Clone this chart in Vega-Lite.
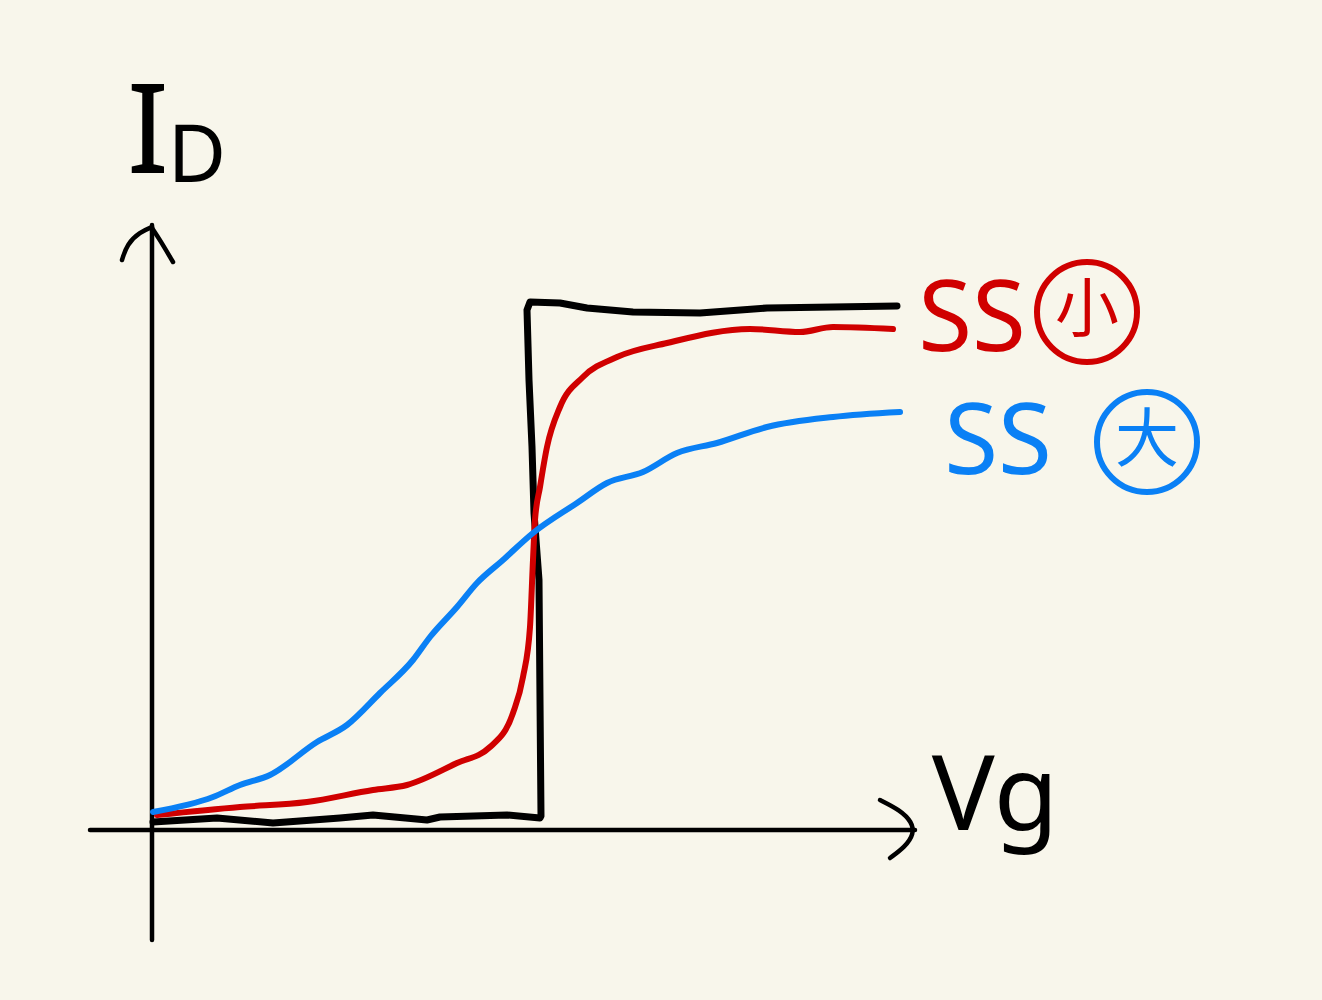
{
  "$schema": "https://vega.github.io/schema/vega-lite/v6.json",
  "description": "Hand sketch: Id-Vg transfer curves, ideal step vs small SS vs large SS.",
  "width": 1322,
  "height": 1000,
  "padding": 0,
  "autosize": {"type": "fit", "contains": "padding"},
  "background": "#f8f6eb",
  "datasets": {
    "axes": [
      {"part": "vg_axis", "order": 0, "x": -0.62, "y": 0},
      {"part": "vg_axis", "order": 1, "x": 7.63, "y": 0},
      {"part": "id_axis", "order": 0, "x": 0, "y": -1.1},
      {"part": "id_axis", "order": 1, "x": 0, "y": 6.05},
      {"part": "id_arrow_l", "order": 0, "x": -0.3, "y": 5.7},
      {"part": "id_arrow_l", "order": 1, "x": -0.25, "y": 5.86},
      {"part": "id_arrow_l", "order": 2, "x": -0.12, "y": 5.98},
      {"part": "id_arrow_l", "order": 3, "x": 0, "y": 6.03},
      {"part": "id_arrow_r", "order": 0, "x": 0, "y": 6.02},
      {"part": "id_arrow_r", "order": 1, "x": 0.08, "y": 5.9},
      {"part": "id_arrow_r", "order": 2, "x": 0.21, "y": 5.68},
      {"part": "vg_arrow", "order": 0, "x": 7.28, "y": 0.3},
      {"part": "vg_arrow", "order": 1, "x": 7.48, "y": 0.2},
      {"part": "vg_arrow", "order": 2, "x": 7.6, "y": 0.08},
      {"part": "vg_arrow", "order": 3, "x": 7.62, "y": -0.04},
      {"part": "vg_arrow", "order": 4, "x": 7.53, "y": -0.17},
      {"part": "vg_arrow", "order": 5, "x": 7.38, "y": -0.28}
    ],
    "ideal": [
      {"order": 0, "x": 0.01, "y": 0.08},
      {"order": 1, "x": 0.65, "y": 0.12},
      {"order": 2, "x": 1.21, "y": 0.07},
      {"order": 3, "x": 1.88, "y": 0.12},
      {"order": 4, "x": 2.21, "y": 0.15},
      {"order": 5, "x": 2.75, "y": 0.1},
      {"order": 6, "x": 2.88, "y": 0.13},
      {"order": 7, "x": 3.55, "y": 0.15},
      {"order": 8, "x": 3.88, "y": 0.12},
      {"order": 9, "x": 3.89, "y": 0.14},
      {"order": 10, "x": 3.88, "y": 1.3},
      {"order": 11, "x": 3.87, "y": 2.5},
      {"order": 12, "x": 3.82, "y": 3.17},
      {"order": 13, "x": 3.8, "y": 3.83},
      {"order": 14, "x": 3.77, "y": 4.5},
      {"order": 15, "x": 3.75, "y": 5.2},
      {"order": 16, "x": 3.78, "y": 5.28},
      {"order": 17, "x": 4.08, "y": 5.27},
      {"order": 18, "x": 4.35, "y": 5.22},
      {"order": 19, "x": 4.81, "y": 5.18},
      {"order": 20, "x": 5.48, "y": 5.17},
      {"order": 21, "x": 6.15, "y": 5.22},
      {"order": 22, "x": 6.81, "y": 5.23},
      {"order": 23, "x": 7.45, "y": 5.24}
    ],
    "curves": [
      {"series": "small", "x": 0.05, "y": 0.15},
      {"series": "small", "x": 0.88, "y": 0.23},
      {"series": "small", "x": 1.55, "y": 0.28},
      {"series": "small", "x": 2.21, "y": 0.4},
      {"series": "small", "x": 2.55, "y": 0.45},
      {"series": "small", "x": 3.05, "y": 0.67},
      {"series": "small", "x": 3.38, "y": 0.83},
      {"series": "small", "x": 3.61, "y": 1.17},
      {"series": "small", "x": 3.71, "y": 1.53},
      {"series": "small", "x": 3.78, "y": 2.03},
      {"series": "small", "x": 3.81, "y": 2.7},
      {"series": "small", "x": 3.83, "y": 3.1},
      {"series": "small", "x": 3.88, "y": 3.43},
      {"series": "small", "x": 3.95, "y": 3.83},
      {"series": "small", "x": 4.08, "y": 4.23},
      {"series": "small", "x": 4.31, "y": 4.53},
      {"series": "small", "x": 4.65, "y": 4.73},
      {"series": "small", "x": 5.15, "y": 4.87},
      {"series": "small", "x": 5.98, "y": 5.01},
      {"series": "small", "x": 6.48, "y": 4.98},
      {"series": "small", "x": 6.81, "y": 5.03},
      {"series": "small", "x": 7.41, "y": 5.01},
      {"series": "large", "x": 0.01, "y": 0.18},
      {"series": "large", "x": 0.61, "y": 0.33},
      {"series": "large", "x": 0.88, "y": 0.45},
      {"series": "large", "x": 1.18, "y": 0.55},
      {"series": "large", "x": 1.65, "y": 0.88},
      {"series": "large", "x": 1.95, "y": 1.05},
      {"series": "large", "x": 2.28, "y": 1.37},
      {"series": "large", "x": 2.61, "y": 1.7},
      {"series": "large", "x": 2.78, "y": 1.93},
      {"series": "large", "x": 3.05, "y": 2.23},
      {"series": "large", "x": 3.25, "y": 2.47},
      {"series": "large", "x": 3.51, "y": 2.7},
      {"series": "large", "x": 3.81, "y": 2.97},
      {"series": "large", "x": 4.25, "y": 3.27},
      {"series": "large", "x": 4.55, "y": 3.47},
      {"series": "large", "x": 4.91, "y": 3.58},
      {"series": "large", "x": 5.25, "y": 3.77},
      {"series": "large", "x": 5.65, "y": 3.87},
      {"series": "large", "x": 6.15, "y": 4.03},
      {"series": "large", "x": 6.81, "y": 4.13},
      {"series": "large", "x": 7.48, "y": 4.18}
    ],
    "ss_labels": [
      {"series": "small", "label": "SS", "x": 8.2, "y": 5.08},
      {"series": "large", "label": "SS", "x": 8.46, "y": 3.85}
    ],
    "ss_marks": [
      {"series": "small", "label": "小", "x": 9.35, "y": 5.18},
      {"series": "large", "label": "大", "x": 9.95, "y": 3.88}
    ]
  },
  "encoding": {
    "x": {"field": "x", "type": "quantitative", "axis": null, "scale": {"domain": [-1.52, 11.7], "nice": false, "zero": false}},
    "y": {"field": "y", "type": "quantitative", "axis": null, "scale": {"domain": [-1.7, 8.3], "nice": false, "zero": false}}
  },
  "layer": [
    {
      "data": {"name": "axes"},
      "mark": {"type": "line", "color": "#000000", "strokeWidth": 4.5, "strokeCap": "round", "strokeJoin": "round", "interpolate": "basis"},
      "encoding": {
        "detail": {"field": "part"},
        "order": {"field": "order"}
      }
    },
    {
      "data": {"name": "ideal"},
      "mark": {"type": "line", "color": "#000000", "strokeWidth": 7, "strokeCap": "round", "strokeJoin": "round"},
      "encoding": {"order": {"field": "order"}}
    },
    {
      "data": {"name": "curves"},
      "mark": {"type": "line", "strokeWidth": 6, "strokeCap": "round", "interpolate": "monotone"},
      "encoding": {
        "color": {"field": "series", "type": "nominal", "legend": null,
          "scale": {"domain": ["small", "large"], "range": ["#d00000", "#0a80f5"]}}
      }
    },
    {
      "data": {"name": "ss_labels"},
      "mark": {"type": "text", "font": "Noto Sans", "fontSize": 98, "align": "center", "baseline": "middle"},
      "encoding": {
        "text": {"field": "label"},
        "color": {"field": "series", "type": "nominal", "legend": null}
      }
    },
    {
      "data": {"name": "ss_marks"},
      "mark": {"type": "text", "font": "Noto Sans CJK JP", "fontSize": 64, "align": "center", "baseline": "middle"},
      "encoding": {
        "text": {"field": "label"},
        "color": {"field": "series", "type": "nominal", "legend": null}
      }
    },
    {
      "data": {"name": "ss_marks"},
      "mark": {"type": "point", "shape": "circle", "filled": false, "size": 10000, "strokeWidth": 6, "opacity": 1},
      "encoding": {
        "color": {"field": "series", "type": "nominal", "legend": null}
      }
    },
    {
      "data": {"values": [{"label": "I", "x": -0.04, "y": 6.95}]},
      "mark": {"type": "text", "font": "Noto Sans", "fontSize": 125, "align": "center", "baseline": "middle", "color": "#000000"},
      "encoding": {"text": {"field": "label"}}
    },
    {
      "data": {"values": [{"label": "D", "x": 0.45, "y": 6.72}]},
      "mark": {"type": "text", "font": "Noto Sans", "fontSize": 80, "align": "center", "baseline": "middle", "color": "#000000"},
      "encoding": {"text": {"field": "label"}}
    },
    {
      "data": {"values": [{"label": "Vg", "x": 8.43, "y": 0.0}]},
      "mark": {"type": "text", "font": "Noto Sans", "fontSize": 105, "align": "center", "baseline": "alphabetic", "color": "#000000"},
      "encoding": {"text": {"field": "label"}}
    }
  ],
  "config": {"view": {"stroke": null}}
}
